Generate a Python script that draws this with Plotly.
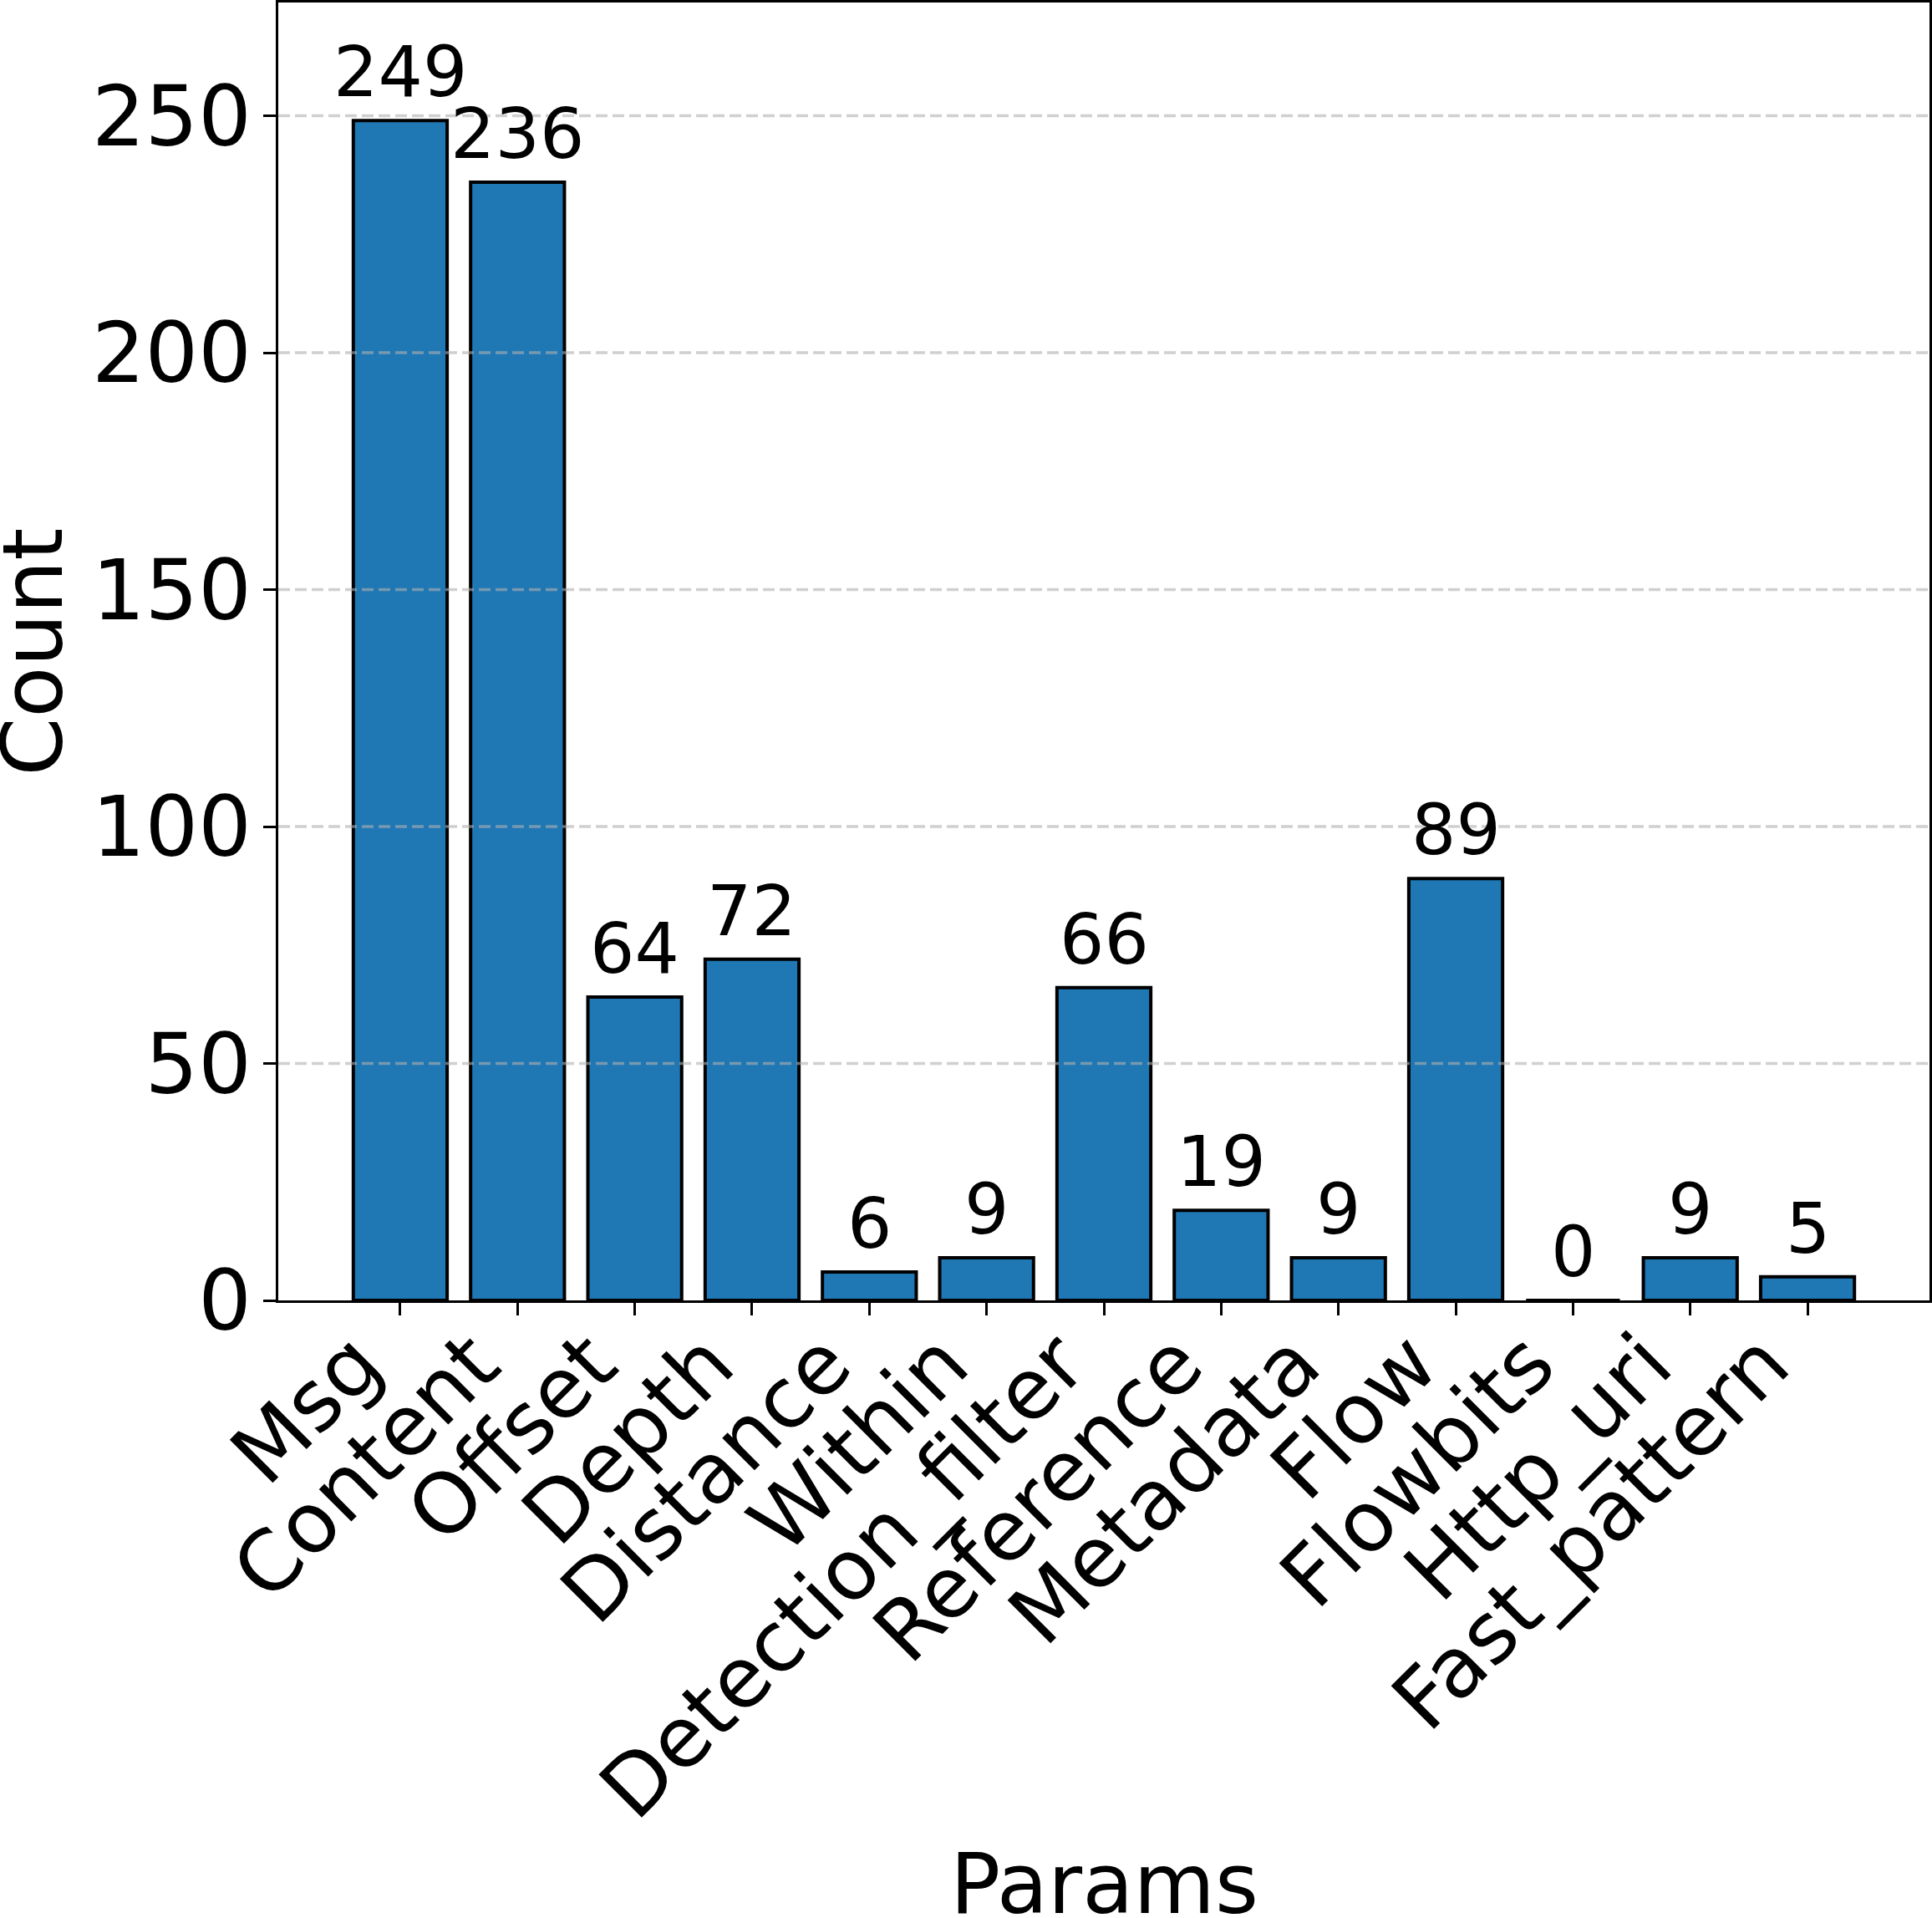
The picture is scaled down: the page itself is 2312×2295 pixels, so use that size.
import plotly.graph_objects as go

categories = ["Msg", "Content", "Offset", "Depth", "Distance", "Within",
              "Detection_filter", "Reference", "Metadata", "Flow", "Flowbits",
              "Http_uri", "Fast_pattern"]
counts = [249, 236, 64, 72, 6, 9, 66, 19, 9, 89, 0, 9, 5]
y_ticks = [0, 50, 100, 150, 200, 250]

W, H = 2312, 2295
L, R, T, B = 333, 3, 3, 739
FONT = "DejaVu Sans"

fig = go.Figure()
fig.add_trace(go.Bar(
    x=list(range(len(categories))), y=counts, width=0.8,
    marker=dict(color="#1f77b4", line=dict(color="black", width=4)),
    hoverinfo="skip",
))

annotations = []
for i, v in enumerate(counts):
    annotations.append(dict(
        x=i, y=v, xref="x", yref="y", text=str(v), showarrow=False,
        yanchor="bottom", xanchor="center", yshift=7,
        font=dict(family=FONT, size=84, color="black"),
    ))
annotations.append(dict(
    x=0.5, y=-0.450, xref="paper", yref="paper", text="Params", showarrow=False,
    xanchor="center", yanchor="middle",
    font=dict(family=FONT, size=100, color="black"),
))
annotations.append(dict(
    x=-0.1483, y=0.5, xref="paper", yref="paper", text="Count", showarrow=False,
    xanchor="center", yanchor="middle", textangle=-90,
    font=dict(family=FONT, size=100, color="black"),
))

shapes = []
for t in y_ticks[1:]:
    shapes.append(dict(
        type="line", xref="paper", yref="y", x0=0, x1=1, y0=t, y1=t,
        line=dict(color="rgba(176,176,176,0.6)", width=3.5, dash="14px,6px"),
        layer="above",
    ))

ymax = max(counts) * 1.1
fig.update_layout(
    width=W, height=H,
    margin=dict(l=L, r=R, t=T, b=B, autoexpand=False),
    paper_bgcolor="white", plot_bgcolor="white",
    showlegend=False,
    annotations=annotations, shapes=shapes,
    font=dict(family=FONT, color="black"),
)
fig.update_xaxes(
    tickmode="array", tickvals=list(range(len(categories))), ticktext=categories,
    range=[-1.04, len(categories) - 1 + 1.04],
    tickangle=-45, tickfont=dict(family=FONT, size=100, color="black"),
    ticks="outside", ticklen=15, tickwidth=3.3, tickcolor="black",
    ticklabelshift=-52, ticklabelstandoff=-41,
    showline=True, linecolor="black", linewidth=3.3, mirror=True,
    showgrid=False, zeroline=False, automargin=False,
)
fig.update_yaxes(
    tickmode="array", tickvals=y_ticks, ticktext=[str(t) for t in y_ticks],
    range=[0, ymax],
    tickfont=dict(family=FONT, size=100, color="black"),
    ticks="outside", ticklen=15, tickwidth=3.3, tickcolor="black",
    ticklabelstandoff=-6,
    showline=True, linecolor="black", linewidth=3.3, mirror=True,
    showgrid=False, zeroline=False, automargin=False,
)

fig.write_html("out.html")
